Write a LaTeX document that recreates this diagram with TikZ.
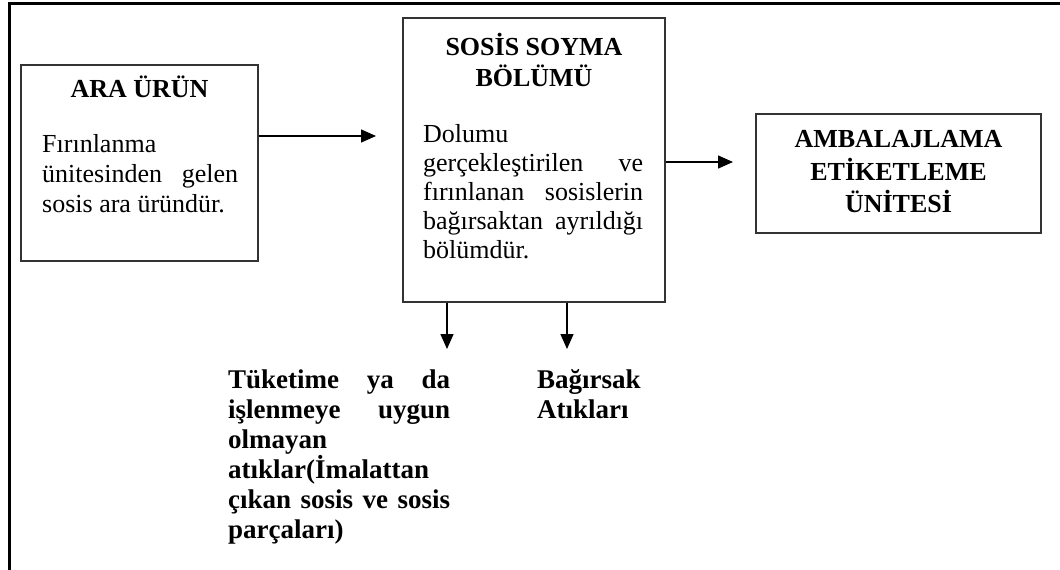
\documentclass[tikz,border=0pt]{standalone}
\usepackage{fontspec}
\setmainfont{Liberation Serif}
\usetikzlibrary{arrows.meta}
\tikzset{
  box/.style={draw=black!80, line width=1.4pt, inner sep=0pt},
  flow/.style={draw=black, line width=1.5pt, -{Triangle[length=15pt,width=13pt]}},
  body/.style={inner sep=0pt, anchor=base west, font=\fontsize{26}{30}\selectfont},
  ttl/.style={inner sep=0pt, anchor=base, font=\fontsize{26}{30}\selectfont\bfseries},
  btxt/.style={inner sep=0pt, anchor=base west, font=\fontsize{27}{30}\selectfont\bfseries},
  frame/.style={draw=black, line width=3pt}
}
\begin{document}
\begin{tikzpicture}[x=1pt,y=-1pt]
\useasboundingbox (0,0) rectangle (1060,570);
% outer frame (top and left only)
\coordinate (f1) at (9,570);
\coordinate (f2) at (9,3);
\coordinate (f3) at (1062,3);
\draw[frame] (f1) -- (f2) -- (f3);

% boxes
\node[box, minimum width=237pt, minimum height=196pt] (A) at (139.5,163) {};
\node[box, minimum width=262pt, minimum height=284pt] (B) at (534,160) {};
\node[box, minimum width=285pt, minimum height=119pt] (C) at (898.5,173.5) {};

% box A texts
\node[ttl] (at) at (139.5,97) {ARA ÜRÜN};
\node[body] (a1) at (42,152) {Fırınlanma};
\node[body] (a2) at (42,182) {\makebox[196pt][s]{ünitesinden gelen}};
\node[body] (a3) at (42,212) {sosis ara üründür.};

% box B texts
\node[ttl] (bt1) at (534,55) {SOSİS SOYMA};
\node[ttl] (bt2) at (534,86) {BÖLÜMÜ};
\node[body] (b1) at (423,142) {Dolumu};
\node[body] (b2) at (423,171) {\makebox[220pt][s]{gerçekleştirilen ve}};
\node[body] (b3) at (423,200) {\makebox[220pt][s]{fırınlanan sosislerin}};
\node[body] (b4) at (423,229) {\makebox[220pt][s]{bağırsaktan ayrıldığı}};
\node[body] (b5) at (423,258) {bölümdür.};

% box C texts
\node[ttl] (c1) at (898.5,147) {AMBALAJLAMA};
\node[ttl] (c2) at (898.5,180) {ETİKETLEME};
\node[ttl] (c3) at (898.5,212) {ÜNİTESİ};

% bottom texts
\node[btxt] (w1) at (228,388) {\makebox[222pt][s]{Tüketime ya da}};
\node[btxt] (w2) at (228,418) {\makebox[222pt][s]{işlenmeye uygun}};
\node[btxt] (w3) at (228,448) {olmayan};
\node[btxt] (w4) at (228,478) {atıklar(İmalattan};
\node[btxt] (w5) at (228,508) {\makebox[222pt][s]{çıkan sosis ve sosis}};
\node[btxt] (w6) at (228,538) {parçaları)};
\node[btxt] (g1) at (537,388) {Bağırsak};
\node[btxt] (g2) at (537,418) {Atıkları};

% connector ends
\coordinate (e1) at (376,136);
\coordinate (e2) at (733,162);
\coordinate (e3) at (447,349);
\coordinate (e4) at (567,349);

% arrows
\draw[flow] (A.east |- e1) -- (e1);
\draw[flow] (B.east |- e2) -- (e2);
\draw[flow] (B.south -| e3) -- (e3);
\draw[flow] (B.south -| e4) -- (e4);
\end{tikzpicture}
\end{document}
